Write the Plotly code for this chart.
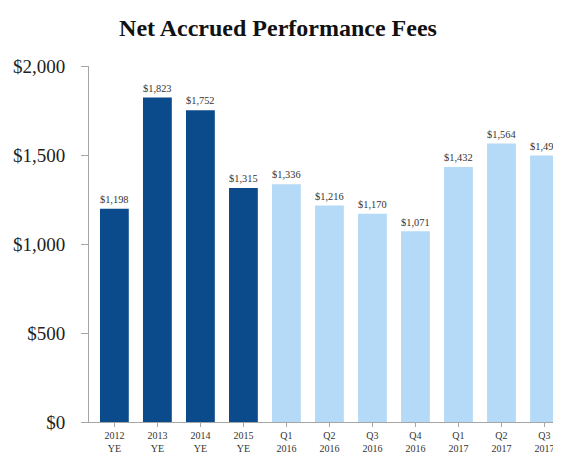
import plotly.graph_objects as go

categories = ["2012<br>YE", "2013<br>YE", "2014<br>YE", "2015<br>YE",
              "Q1<br>2016", "Q2<br>2016", "Q3<br>2016", "Q4<br>2016",
              "Q1<br>2017", "Q2<br>2017", "Q3<br>2017"]
fees = [1198, 1823, 1752, 1315, 1336, 1216, 1170, 1071, 1432, 1564, 1497]
bar_colors = ["#0B4A8B"] * 4 + ["#B5DAF7"] * 7
y_ticks = [0, 500, 1000, 1500, 2000]

serif = "Liberation Serif, Times New Roman, serif"

fig = go.Figure(go.Bar(
    x=list(range(len(categories))),
    y=fees,
    marker=dict(color=bar_colors, line=dict(width=0)),
    text=[f"${v:,}" for v in fees],
    textposition="outside",
    textfont=dict(family=serif, size=11.5, color="#333333"),
    cliponaxis=True,
))

# page body adds 8px around the figure; the chart runs off the right edge
fig.update_layout(
    width=561, height=448,
    margin=dict(l=81, r=0, t=58, b=34),
    plot_bgcolor="white", paper_bgcolor="white",
    bargap=0.33,
    showlegend=False,
    title=dict(text="<b>Net Accrued Performance Fees</b>", x=270 / 561, xanchor="center",
               y=0.957, yanchor="middle",
               font=dict(family=serif, size=24, color="#111111")),
    xaxis=dict(
        range=[-0.59, 10.57],
        tickmode="array",
        tickvals=list(range(len(categories))),
        ticktext=categories,
        tickfont=dict(family=serif, size=10, color="#333333"),
        showline=True, linecolor="#A6A6A6", linewidth=1,
        ticks="outside", tickson="boundaries", ticklen=4, tickcolor="#A6A6A6",
        showgrid=False, zeroline=False,
    ),
    yaxis=dict(
        range=[0, 2000],
        tickvals=y_ticks,
        ticktext=[f"${v:,}" for v in y_ticks],
        tickfont=dict(family=serif, size=19, color="#222222"),
        showline=True, linecolor="#A6A6A6", linewidth=1,
        ticks="outside", ticklen=7, tickcolor="#A6A6A6",
        ticklabelstandoff=12,
        showgrid=False, zeroline=False,
    ),
)

fig.write_html("out.html", config={"responsive": False})
